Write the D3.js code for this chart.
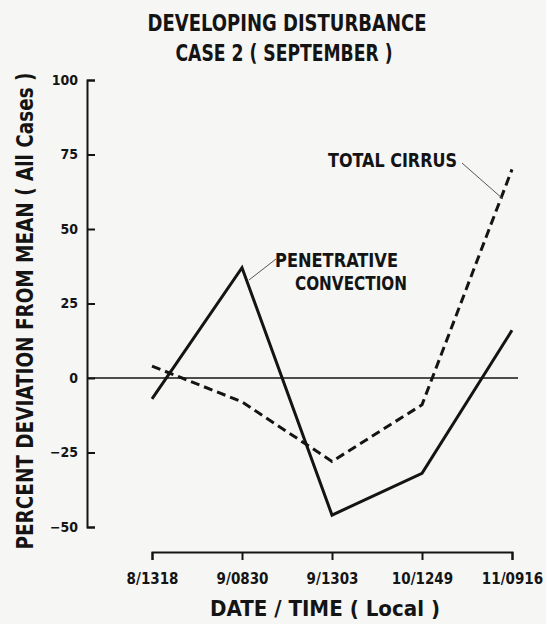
<!DOCTYPE html>
<html>
<head>
<meta charset="utf-8">
<script src="https://cdn.jsdelivr.net/npm/d3@7"></script>
<style>
  html, body { margin: 0; padding: 0; background: #f6f6f4; }
  svg { display: block; }
  text { font-family: "DejaVu Sans Condensed", "Liberation Sans Narrow", sans-serif; font-weight: bold; fill: #141414; }
</style>
</head>
<body>
<script>
// Observation times (date / local time)
const dates = ["8/1318", "9/0830", "9/1303", "10/1249", "11/0916"];
// Percent deviation from the all-case mean
const penetrativeConvection = [-7, 37, -46, -32, 16];
const totalCirrus = [4, -8, -28, -9, 70];
const yTicks = [100, 75, 50, 25, 0, -25, -50];

const W = 546, H = 624;
const svg = d3.select("body").append("svg").attr("width", W).attr("height", H);

const x = d3.scalePoint().domain(dates).range([152, 512]);
const y = d3.scaleLinear().domain([-50, 100]).range([527, 80]);
const axisX = 87;
const axisY = 552;
const ink = "#141414";

// Titles
svg.append("text").attr("x", 287).attr("y", 31).attr("text-anchor", "middle")
  .attr("font-size", 23).attr("textLength", 279).attr("lengthAdjust", "spacingAndGlyphs")
  .text("DEVELOPING DISTURBANCE");
svg.append("text").attr("x", 284).attr("y", 61).attr("text-anchor", "middle")
  .attr("font-size", 23).attr("textLength", 217).attr("lengthAdjust", "spacingAndGlyphs")
  .text("CASE 2 ( SEPTEMBER )");

// Y axis with ticks pointing into the plot
const gy = svg.append("g").attr("transform", `translate(${axisX},0)`)
  .call(d3.axisLeft(y).tickValues(yTicks).tickSize(-8).tickSizeOuter(-8).tickPadding(9)
    .tickFormat(d3.format("d")));
gy.selectAll("path, line").attr("stroke", ink).attr("stroke-width", 2);
gy.selectAll("text").attr("font-size", 14).attr("font-family", null).attr("fill", ink);

svg.append("text")
  .attr("transform", `translate(33,311) rotate(-90)`)
  .attr("text-anchor", "middle").attr("font-size", 23)
  .attr("textLength", 477).attr("lengthAdjust", "spacingAndGlyphs")
  .text("PERCENT DEVIATION FROM MEAN ( All Cases )");

// X axis: bracket with downward ticks
const gx = svg.append("g").attr("transform", `translate(0,${axisY})`)
  .call(d3.axisBottom(x).tickSize(8).tickSizeOuter(8).tickPadding(13));
gx.selectAll("path, line").attr("stroke", ink).attr("stroke-width", 2);
gx.selectAll("text").attr("font-size", 15).attr("font-family", null).attr("fill", ink);

svg.append("text").attr("x", 325).attr("y", 616).attr("text-anchor", "middle")
  .attr("font-size", 22).attr("textLength", 230).attr("lengthAdjust", "spacingAndGlyphs")
  .text("DATE / TIME ( Local )");

// Zero reference line
svg.append("line").attr("x1", axisX).attr("x2", 518).attr("y1", y(0)).attr("y2", y(0))
  .attr("stroke", ink).attr("stroke-width", 1.6);

const line = d3.line().x((d, i) => x(dates[i])).y(d => y(d));

svg.append("path").datum(totalCirrus).attr("d", line)
  .attr("fill", "none").attr("stroke", ink).attr("stroke-width", 3)
  .attr("stroke-dasharray", "9,5").attr("stroke-linejoin", "miter");

svg.append("path").datum(penetrativeConvection).attr("d", line)
  .attr("fill", "none").attr("stroke", ink).attr("stroke-width", 3)
  .attr("stroke-linejoin", "miter");

// Series annotations with leader lines
svg.append("text").attr("x", 328).attr("y", 167).attr("font-size", 19)
  .attr("textLength", 129).attr("lengthAdjust", "spacingAndGlyphs").text("TOTAL CIRRUS");
svg.append("line").attr("x1", 462).attr("y1", 163).attr("x2", 503).attr("y2", 199)
  .attr("stroke", "#555").attr("stroke-width", 1);

svg.append("text").attr("x", 275).attr("y", 267).attr("font-size", 19)
  .attr("textLength", 123).attr("lengthAdjust", "spacingAndGlyphs").text("PENETRATIVE");
svg.append("text").attr("x", 295).attr("y", 290).attr("font-size", 19)
  .attr("textLength", 112).attr("lengthAdjust", "spacingAndGlyphs").text("CONVECTION");
svg.append("line").attr("x1", 276).attr("y1", 259).attr("x2", 249).attr("y2", 280)
  .attr("stroke", "#555").attr("stroke-width", 1);
</script>
</body>
</html>
